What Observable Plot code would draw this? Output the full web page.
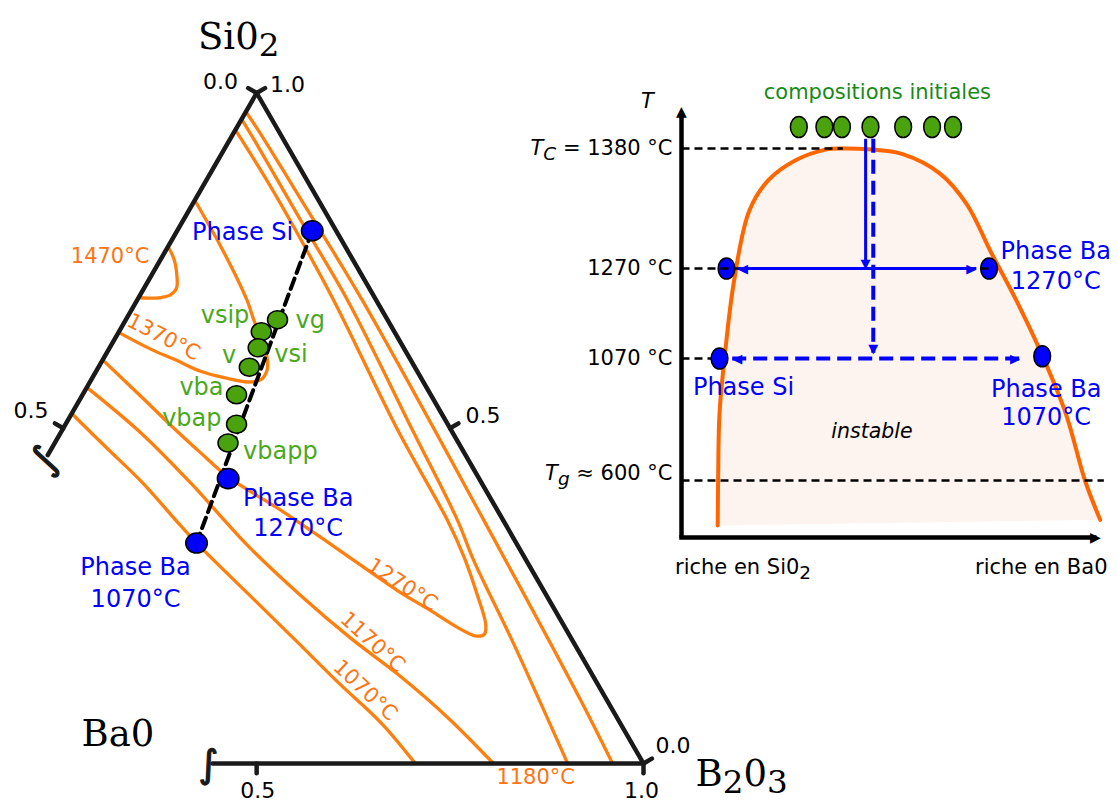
<!DOCTYPE html>
<html><head><meta charset="utf-8">
<script src="https://cdn.jsdelivr.net/npm/d3@7"></script>
<script src="https://cdn.jsdelivr.net/npm/@observablehq/plot@0.6"></script>
<style>
html,body{margin:0;padding:0;background:#fff;}
#wrap{position:relative;width:1118px;height:805px;overflow:hidden;}
#wrap svg{position:absolute;left:0;top:0;}
</style></head><body><div id="wrap"></div>
<script>
// ===================== LEFT: ternary diagram (fractions SiO2, B2O3; BaO = rest) =====================
const iso1470SiO2 = [0.771,0.751,0.726,0.709,0.699,0.695,0.694,0.695];
const iso1470B2O3 = [0.000,0.018,0.034,0.042,0.039,0.029,0.012,0.000];
const iso1370SiO2 = [0.840,0.766,0.691,0.661,0.621,0.605,0.587,0.572,0.569,0.575,0.585,0.602,0.618,0.643];
const iso1370B2O3 = [0.000,0.073,0.142,0.166,0.199,0.211,0.220,0.219,0.204,0.172,0.135,0.094,0.054,0.000];
const iso1270SiO2 = [0.602,0.548,0.500,0.464,0.427,0.378,0.322,0.258,0.228,0.203,0.190,0.193,0.208,0.252,0.308,0.363,0.497,0.691,0.793,0.873,0.945];
const iso1270B2O3 = [0.000,0.076,0.143,0.195,0.250,0.342,0.441,0.553,0.611,0.658,0.689,0.698,0.692,0.659,0.614,0.565,0.434,0.254,0.155,0.075,0.000];
const iso1180SiO2 = [0.961,0.922,0.810,0.691,0.497,0.363,0.303,0.184,0.000];
const iso1180B2O3 = [0.000,0.040,0.152,0.272,0.453,0.578,0.629,0.738,0.902];
const isoOuterSiO2 = [0.972,0.949,0.840,0.691,0.363,0.094,0.000];
const isoOuterB2O3 = [0.000,0.025,0.138,0.291,0.612,0.872,0.960];
const iso1170SiO2 = [0.561,0.493,0.418,0.325,0.251,0.187,0.133,0.069,0.000];
const iso1170B2O3 = [0.000,0.104,0.206,0.326,0.431,0.528,0.616,0.712,0.806];
const iso1070SiO2 = [0.522,0.472,0.421,0.355,0.331,0.257,0.187,0.118,0.061,0.000];
const iso1070B2O3 = [0.000,0.069,0.140,0.224,0.255,0.357,0.454,0.549,0.630,0.705];

const isoLabels = ["1470°C","1370°C","1270°C","1170°C","1070°C","1180°C"];
const isoLabelSiO2 = [0.771,0.618,0.258,0.187,0.118,0.000];
const isoLabelB2O3 = [0.000,0.054,0.553,0.528,0.549,0.902];

const glassNames = ["vg","vsip","vsi","v","vba","vbap","vbapp"];
const glassSiO2 = [0.662,0.644,0.620,0.591,0.550,0.506,0.478];
const glassB2O3 = [0.196,0.184,0.192,0.195,0.199,0.221,0.224];

const phaseNames = ["Phase Si","Phase Ba\n1270°C","Phase Ba\n1070°C"];
const phaseSiO2 = [0.7945,0.4249,0.3288];
const phaseB2O3 = [0.1746,0.2507,0.2579];

// axis: edges (truncated near BaO), ticks
const edgeSiO2 = [0.46,1,0,0];
const edgeB2O3 = [0,0,1,0.443];
const tickEdge = ["left","left","right","right","right","bottom","bottom"];
const tickSiO2 = [1,0.5,1,0.5,0,0,0];
const tickB2O3 = [0,0,0,0.5,1,0.5,1];
const tickText = ["0.0","0.5","1.0","0.5","0.0","0.5","1.0"];
const vertexNames = ["Si0_{2}","Ba0","B_{2}0_{3}"];
const vertexSiO2 = [1,0,0];
const vertexB2O3 = [0,0,1];

// ===================== RIGHT: T–composition schematic =====================
const binodalX = [0.0864,0.0874,0.0907,0.1026,0.1255,0.1618,0.2074,0.2711,0.3437,0.385,0.4532,0.526,0.617,0.6807,0.7399,0.7991,0.8609,0.9174,0.963,0.9993];
const binodalT = [442,600,858,1070,1243,1323,1351,1369,1379,1380,1379,1375,1357,1329,1284,1199,1077,857,600,462];
const initialX = [0.280,0.341,0.383,0.451,0.529,0.598,0.648];
const initialT = 1400;
const tempTicks = [1380,1270,1070,600];
const tempTickLabels = ["$T$_{$C$} = 1380 °C","1270 °C","1070 °C","$T$_{$g$} ≈ 600 °C"];
const refLineEndX = [0.385,0.737,0.0716,1.008];
const endPhaseX = [0.1074,0.734,0.0907,0.8609];
const endPhaseT = [1270,1270,1070,1075];
const endPhaseNames = ["","Phase Ba\n1270°C","Phase Si","Phase Ba\n1070°C"];
const quenchX = [0.4394,0.4577];           // vertical arrows (solid: 1270, dashed: 1070)
const quenchT = [1389,1270,1389,1080];
const tieT = [1270,1070];
const tieFromX = [0.1346,0.121];
const tieToX = [0.7036,0.808];

// ===================== styles =====================
const ORANGE = "#ff7f0e", ORANGE_T = "#ff7410", INK = "#1a1a1a", GREEN = "#4aa30c", GREEN_T = "#4ba81c",
      GREEN_DARK = "#178a17", BLUE = "#0000ff", CURVE = "#ff6600", FILL = "#fdf3ef", FONT = "DejaVu Sans";
const R3 = Math.sqrt(3)/2;
const TL = 0.0125;

function ellipse(kx, ky) {
  return {draw(ctx, size) {
    const r = Math.sqrt(size/Math.PI), a = r*kx, b = r*ky, k = 0.5523;
    ctx.moveTo(a,0);
    ctx.bezierCurveTo(a,b*k,a*k,b,0,b);
    ctx.bezierCurveTo(-a*k,b,-a,b*k,-a,0);
    ctx.bezierCurveTo(-a,-b*k,-a*k,-b,0,-b);
    ctx.bezierCurveTo(a*k,-b,a,-b*k,a,0);
    ctx.closePath();
  }};
}
const pts = (S,B,extra) => S.map((s,i)=>({s, b:B[i], x:B[i]+s/2, y:s*R3, ...(extra?extra(i):{})}));

const curves = [
  pts(iso1470SiO2,iso1470B2O3), pts(iso1370SiO2,iso1370B2O3), pts(iso1270SiO2,iso1270B2O3),
  pts(iso1180SiO2,iso1180B2O3), pts(isoOuterSiO2,isoOuterB2O3), pts(iso1170SiO2,iso1170B2O3),
  pts(iso1070SiO2,iso1070B2O3)
];
const normals = {left:[-0.866,0.5], right:[0.866,0.5], bottom:[0,-1]};
const ticks = pts(tickSiO2,tickB2O3,i=>({edge:tickEdge[i], label:tickText[i]})).map(d=>({...d, x2:d.x+normals[d.edge][0]*TL, y2:d.y+normals[d.edge][1]*TL}));
const glass = pts(glassSiO2,glassB2O3,i=>({name:glassNames[i]}));
const phases = pts(phaseSiO2,phaseB2O3,i=>({name:phaseNames[i]}));
const tie = [phases[0], phases[2]];
const isoLab = pts(isoLabelSiO2,isoLabelB2O3,i=>({name:isoLabels[i]}));
const verts = pts(vertexSiO2,vertexB2O3,i=>({name:vertexNames[i]}));
const brk = pts([0.46,0],[0,0.443]);

// layout for labels (pixel offsets)
const isoLabLayout = [[-58,10,0],[13,-12,27],[5,-6,33],[22,4,42],[25,6,43],[-32,14,0]];
const glassLayout = [["start",18,1],["end",-12,-16],["start",16,7],["end",-13,-12],["end",-13,-7],["end",-15,-6],["start",15,8]];
const phaseLayout = [["end",-19,0,1.25],["middle",70,33,1.25],["middle",-61,37.5,1.33]];
const tickLayout = [["end",-18.7,-11.5],["end",-14.7,-17],["start",13.3,-8],["start",15.4,-12],["start",12,-18],["middle",1,27],["middle",-2,27]];
const vertLayout = [[-58.7,-44.5],[211.7,-18],[52,22]];

const leftMarks = [];
curves.forEach(c => leftMarks.push(Plot.line(c, {x:"x", y:"y", stroke:ORANGE, strokeWidth:3.3, curve:"catmull-rom"})));
leftMarks.push(Plot.line(pts(edgeSiO2,edgeB2O3), {x:"x", y:"y", stroke:INK, strokeWidth:4.5, strokeLinejoin:"miter"}));
leftMarks.push(Plot.link(ticks, {x1:"x", y1:"y", x2:"x2", y2:"y2", stroke:INK, strokeWidth:4.5, strokeLinecap:"round"}));
leftMarks.push(Plot.text([brk[0]], {x:"x", y:"y", text:()=>"∫", fontFamily:FONT, fontSize:38, rotate:-50, dx:-3, dy:5, fill:INK, stroke:INK, strokeWidth:1.2}));
leftMarks.push(Plot.text([brk[1]], {x:"x", y:"y", text:()=>"∫", fontFamily:FONT, fontSize:38, dx:-4, dy:1, fill:INK, stroke:INK, strokeWidth:1.2}));
leftMarks.push(Plot.line(tie, {x:"x", y:"y", stroke:"black", strokeWidth:4, strokeDasharray:"11,6"}));
leftMarks.push(Plot.dot(glass, {x:"x", y:"y", r:10, symbol:ellipse(1,0.9), fill:GREEN, stroke:"black", strokeWidth:1.5}));
leftMarks.push(Plot.dot(phases, {x:"x", y:"y", r:10.8, symbol:ellipse(1,0.93), fill:BLUE, stroke:"black", strokeWidth:1.5}));
isoLab.forEach((d,i) => leftMarks.push(Plot.text([d], {x:"x", y:"y", text:"name", fill:ORANGE_T, fontFamily:FONT, fontSize:21,
  dx:isoLabLayout[i][0], dy:isoLabLayout[i][1], rotate:isoLabLayout[i][2]})));
glass.forEach((d,i) => leftMarks.push(Plot.text([d], {x:"x", y:"y", text:"name", fill:GREEN_T, fontFamily:FONT, fontSize:24,
  textAnchor:glassLayout[i][0], dx:glassLayout[i][1], dy:glassLayout[i][2]})));
phases.forEach((d,i) => leftMarks.push(Plot.text([d], {x:"x", y:"y", text:"name", fill:BLUE, fontFamily:FONT, fontSize:24,
  textAnchor:phaseLayout[i][0], dx:phaseLayout[i][1], dy:phaseLayout[i][2], lineHeight:phaseLayout[i][3]})));
ticks.forEach((d,i) => leftMarks.push(Plot.text([d], {x:"x", y:"y", text:"label", fill:"black", fontFamily:FONT, fontSize:22,
  textAnchor:tickLayout[i][0], dx:tickLayout[i][1], dy:tickLayout[i][2]})));
verts.forEach((d,i) => leftMarks.push(Plot.text([d], {x:"x", y:"y", text:"name", fill:"black", fontFamily:"DejaVu Serif", fontSize:37,
  textAnchor:"start", lineAnchor:"bottom", dx:vertLayout[i][0], dy:vertLayout[i][1]})));

const left = Plot.plot({
  width:1118, height:805, margin:0,
  x:{domain:[0,1], range:[-130.7,643], axis:null},
  y:{domain:[0,R3], range:[763,92.5], axis:null},
  style:{background:"transparent", fontFamily:FONT},
  marks:leftMarks
});

// ===================== right panel marks =====================
const binodal = binodalX.map((x,i)=>({x, T:binodalT[i]}));
const initial = initialX.map(x=>({x, T:initialT}));
const refs = tempTicks.map((T,i)=>({T, x2:refLineEndX[i], label:tempTickLabels[i]}));
const ends = endPhaseX.map((x,i)=>({x, T:endPhaseT[i], name:endPhaseNames[i]}));
const endLayout = [null,["middle",66.7,-4,1.25],["middle",24,27.5,1.2],["middle",4,45.5,1.2]];

const rightMarks = [
  Plot.line(binodal, {x:"x", y:"T", fill:FILL, stroke:"none", curve:"catmull-rom"}),
  Plot.line(binodal, {x:"x", y:"T", stroke:CURVE, strokeWidth:4, curve:"catmull-rom"}),
  Plot.dot(ends, {x:"x", y:"T", r:10.5, symbol:ellipse(0.8,1), fill:BLUE, stroke:"black", strokeWidth:1.5}),
  Plot.link(refs, {x1:0, x2:"x2", y1:"T", y2:"T", stroke:"black", strokeWidth:2.5, strokeDasharray:"8,5"}),
  // quench arrows
  Plot.link([0], {x1:quenchX[0], x2:quenchX[0], y1:quenchT[0], y2:quenchT[1]+5, stroke:BLUE, strokeWidth:3}),
  Plot.link([0], {x1:quenchX[1], x2:quenchX[1], y1:quenchT[2], y2:quenchT[3]+3, stroke:BLUE, strokeWidth:4, strokeDasharray:"14,7"}),
  Plot.text([{x:quenchX[0],T:quenchT[1]},{x:quenchX[1],T:quenchT[3]}], {x:"x", y:"T", text:()=>"▼", fill:BLUE, fontFamily:FONT, fontSize:13, dy:-5}),
  // tie lines
  Plot.link([0], {x1:tieFromX[0], x2:tieToX[0], y1:tieT[0], y2:tieT[0], stroke:BLUE, strokeWidth:3}),
  Plot.link([0], {x1:tieFromX[1], x2:tieToX[1], y1:tieT[1], y2:tieT[1], stroke:BLUE, strokeWidth:4, strokeDasharray:"14,7"}),
  Plot.text([{x:tieFromX[0],T:tieT[0]},{x:tieFromX[1],T:tieT[1]}], {x:"x", y:"T", text:()=>"◀", fill:BLUE, fontFamily:FONT, fontSize:13, dx:5}),
  Plot.text([{x:tieToX[0],T:tieT[0]},{x:tieToX[1],T:tieT[1]}], {x:"x", y:"T", text:()=>"▶", fill:BLUE, fontFamily:FONT, fontSize:13, dx:-5}),
  Plot.dot(initial, {x:"x", y:"T", r:10.5, symbol:ellipse(0.8,1), fill:GREEN, stroke:"black", strokeWidth:1.5}),
  // axes
  Plot.link([0], {x1:0, x2:0, y1:400, y2:1412, stroke:"black", strokeWidth:4.5}),
  Plot.link([0], {x1:0, x2:0.985, y1:400, y2:400, stroke:"black", strokeWidth:4.5, strokeLinecap:"square"}),
  Plot.text([{x:0,T:1420}], {x:"x", y:"T", text:()=>"▲", fill:"black", fontFamily:FONT, fontSize:14, dy:6}),
  Plot.text([{x:1,T:400}], {x:"x", y:"T", text:()=>"▶", fill:"black", fontFamily:FONT, fontSize:14, dx:-5}),
  // texts
  Plot.text(refs.slice(0,3), {x:0, y:"T", text:"label", textAnchor:"end", dx:-9, fontFamily:FONT, fontSize:21, fill:"black"}),
  Plot.text(refs.slice(3), {x:0, y:"T", text:"label", textAnchor:"end", dx:-9, dy:-7, fontFamily:FONT, fontSize:21, fill:"black"}),
  Plot.text([{x:0,T:1420}], {x:"x", y:"T", text:()=>"T", fontStyle:"italic", dx:-34, dy:-4, fontFamily:FONT, fontSize:21, fill:"black"}),
  Plot.text([{x:0.4675,T:initialT}], {x:"x", y:"T", text:()=>"compositions initiales", dy:-35, fontFamily:FONT, fontSize:21, fill:GREEN_DARK}),
  Plot.text([{x:0.4546,T:790}], {x:"x", y:"T", text:()=>"instable", fontStyle:"italic", fontFamily:FONT, fontSize:20.5, fill:"black"}),
  Plot.text([{x:0,T:400}], {x:"x", y:"T", text:()=>"riche en Si0_{2}", textAnchor:"start", dx:-6.5, dy:30, fontFamily:FONT, fontSize:21, fill:"black"}),
  Plot.text([{x:1,T:400}], {x:"x", y:"T", text:()=>"riche en Ba0", textAnchor:"end", dx:7, dy:30, fontFamily:FONT, fontSize:21, fill:"black"})
];
ends.forEach((d,i) => { if (!endLayout[i]) return; const L = endLayout[i];
  rightMarks.push(Plot.text([d], {x:"x", y:"T", text:"name", fill:BLUE, fontFamily:FONT, fontSize:24, textAnchor:L[0], dx:L[1], dy:L[2], lineHeight:L[3]})); });

const right = Plot.plot({
  width:1118, height:805, margin:0,
  x:{domain:[0,1], range:[681,1100], axis:null},
  y:{type:"linear", domain:[400,600,1070,1270,1380,1420], range:[537,480,358,268,148,105], axis:null},
  style:{background:"transparent", fontFamily:FONT},
  marks:rightMarks
});

const wrap = document.getElementById("wrap");
wrap.appendChild(left);
wrap.appendChild(right);

// rich text: _{sub} and $italic$
function richify(svg) {
  const NS = "http://www.w3.org/2000/svg";
  svg.querySelectorAll("text, tspan").forEach(t => {
    if (t.children.length) return;
    const s = t.textContent;
    if (!/_\{|\$/.test(s)) return;
    const fs = parseFloat(getComputedStyle(t).fontSize) || 16;
    const sh = fs >= 30 ? 0.2 : 0.24;
    t.textContent = "";
    const re = /_\{([^}]*)\}|\$([^$]*)\$|([^_$]+)/g;
    let m, shift = 0;
    while ((m = re.exec(s))) {
      const ts = document.createElementNS(NS, "tspan");
      let dy;
      if (m[1] !== undefined) {
        let c = m[1], ital = false;
        if (/^\$.*\$$/.test(c)) { c = c.slice(1,-1); ital = true; }
        ts.textContent = c;
        ts.setAttribute("font-size", (fs*0.88) + "px");
        if (ital) ts.setAttribute("font-style", "italic");
        dy = fs*sh - shift; shift = fs*sh;
      } else {
        ts.textContent = m[2] !== undefined ? m[2] : m[3];
        if (m[2] !== undefined) ts.setAttribute("font-style", "italic");
        dy = -shift; shift = 0;
      }
      if (dy) ts.setAttribute("dy", dy);
      t.appendChild(ts);
    }
  });
}
richify(left); richify(right);
</script></body></html>
